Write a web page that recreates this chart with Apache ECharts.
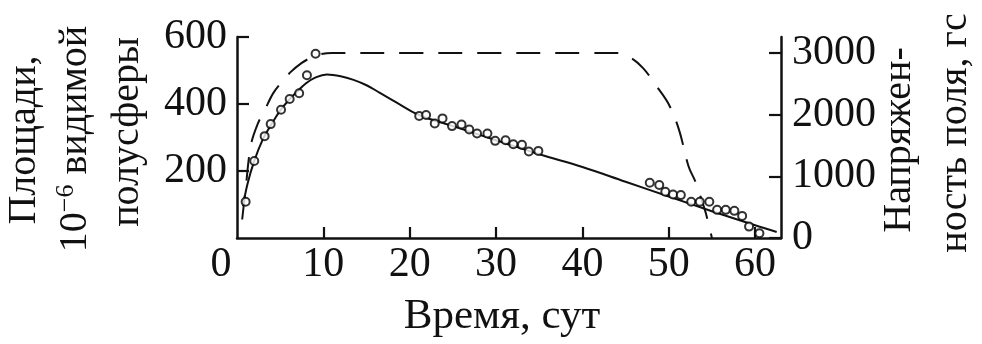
<!DOCTYPE html>
<html>
<head>
<meta charset="utf-8">
<script src="https://cdn.jsdelivr.net/npm/echarts@6/dist/echarts.min.js"></script>
<style>
  html, body { margin: 0; padding: 0; background: #fff; }
  #chart { width: 982px; height: 344px; }
</style>
</head>
<body>
<div id="chart"></div>
<script>
// Observed visible-hemisphere area of the spot group (10^-6 hemisphere)
const obsDays = [1.0, 2.0, 3.2, 3.9, 5.1, 6.1, 7.2, 8.1, 9.1,
  21.1, 21.9, 22.9, 23.8, 24.9, 26.0, 26.9, 27.8, 29.0, 29.9, 31.1, 32.0, 33.0, 33.8, 34.9,
  47.8, 48.9, 49.6, 50.5, 51.4, 52.6, 53.6, 54.7, 55.6, 56.6, 57.6, 58.5, 59.3, 60.5];
const obsArea = [108, 230, 304, 340, 383, 415, 432, 486, 550,
  364, 367, 342, 357, 334, 339, 324, 312, 312, 290, 292, 280, 278, 258, 260,
  165, 158, 138, 130, 128, 108, 108, 108, 84, 84, 81, 66, 34, 14];

// Smoothed area curve
const curveDays = [0.7, 1.2, 2.0, 3.0, 4.0, 5.0, 6.0, 7.0, 8.0, 9.0, 10.4, 12.0, 13.5, 15.0,
  16.5, 18.5, 21.0, 25.0, 30.0, 35.0, 40.0, 45.0, 50.0, 55.0, 60.0, 62.5];
const curveArea = [95, 160, 230, 295, 340, 380, 412, 438, 462, 478, 488, 483, 472, 456,
  434, 404, 368, 334, 292, 250, 212, 168, 124, 80, 38, 18];

// Magnetic field strength, Gs
const fieldDays = [0.6, 1.0, 1.6, 2.4, 3.3, 4.2, 5.2, 6.2, 7.5, 8.5, 9.5, 11, 20, 30, 40, 44,
  45.5, 47, 48.5, 50, 51.2, 52.3, 53.1, 53.8, 54.3, 55];
const fieldGs = [300, 800, 1500, 1850, 2100, 2350, 2530, 2690, 2840, 2920, 2975, 3000, 3000, 3000, 3000, 3000,
  2930, 2760, 2480, 2170, 1750, 1160, 910, 620, 400, 0];

const xTicks = [0, 10, 20, 30, 40, 50, 60];
const areaTicks = [200, 400, 600];
const fieldTicks = [0, 1000, 2000, 3000];

const ink = '#111';
const serif = 'Liberation Serif';

const chart = echarts.init(document.getElementById('chart'), null, { renderer: 'canvas' });

const axisLineStyle = { color: ink, width: 2.5 };
const tickStyle = { color: ink, width: 2.2 };
const plain = v => String(v);

chart.setOption({
  animation: false,
  backgroundColor: '#fff',
  grid: { left: 237, right: 201, top: 37, bottom: 106 },
  xAxis: {
    type: 'value', min: 0, max: 63, interval: 10,
    axisLine: { show: true, onZero: false, lineStyle: axisLineStyle },
    axisTick: { show: true, inside: true, length: 11, lineStyle: tickStyle, customValues: xTicks.slice(1) },
    axisLabel: {
      color: ink, fontFamily: serif, fontSize: 42, margin: 6,
      customValues: xTicks,
      formatter: v => v === 0 ? '{z|0}' : String(v),
      rich: { z: { fontFamily: serif, fontSize: 42, color: ink, padding: [0, 32, 0, 0] } }
    },
    splitLine: { show: false }
  },
  yAxis: [
    {
      type: 'value', min: 0, max: 600, interval: 200, position: 'left',
      axisLine: { show: true, onZero: false, lineStyle: axisLineStyle },
      axisTick: { show: true, inside: true, length: 12, lineStyle: tickStyle, customValues: areaTicks },
      axisLabel: { color: ink, fontFamily: serif, fontSize: 42, margin: 10, customValues: areaTicks, formatter: plain },
      splitLine: { show: false }
    },
    {
      type: 'value', min: 0, max: 3260, position: 'right',
      axisLine: { show: true, onZero: false, lineStyle: axisLineStyle },
      axisTick: { show: true, inside: true, length: 12, lineStyle: tickStyle, customValues: fieldTicks },
      axisLabel: { color: ink, fontFamily: serif, fontSize: 42, margin: 11, customValues: fieldTicks, formatter: plain },
      splitLine: { show: false }
    }
  ],
  series: [
    {
      type: 'line', name: 'field', yAxisIndex: 1, smooth: 0.35, showSymbol: false,
      data: fieldDays.map((d, i) => [d, fieldGs[i]]),
      lineStyle: { color: ink, width: 2, type: [24, 15] },
      z: 2
    },
    {
      type: 'line', name: 'areaCurve', yAxisIndex: 0, smooth: 0.4, showSymbol: false,
      data: curveDays.map((d, i) => [d, curveArea[i]]),
      lineStyle: { color: ink, width: 2 },
      z: 3
    },
    {
      type: 'scatter', name: 'area', yAxisIndex: 0,
      data: obsDays.map((d, i) => [d, obsArea[i]]),
      symbol: 'circle', symbolSize: 8,
      itemStyle: { color: '#fff', borderColor: '#000', borderWidth: 2 },
      z: 4
    }
  ],
  graphic: [
    { type: 'text', x: 502, y: 317, style: { text: 'Время, сут', font: '43px "Liberation Serif"', fill: ink, align: 'center', verticalAlign: 'middle' } },
    { type: 'text', x: 24, y: 140, rotation: Math.PI / 2, style: { text: 'Площади,', font: '40px "Liberation Serif"', fill: ink, align: 'center', verticalAlign: 'middle' } },
    { type: 'text', x: 75, y: 139, rotation: Math.PI / 2, style: {
        text: '{n|10}{s|−6}{n| видимой}', align: 'center', verticalAlign: 'middle',
        rich: {
          n: { font: '40px "Liberation Serif"', fill: ink, lineHeight: 44 },
          s: { font: '26px "Liberation Serif"', fill: ink, lineHeight: 44, verticalAlign: 'top' }
        }
      } },
    { type: 'text', x: 127, y: 132, rotation: Math.PI / 2, style: { text: 'полусферы', font: '40px "Liberation Serif"', fill: ink, align: 'center', verticalAlign: 'middle' } },
    { type: 'text', x: 899, y: 140, rotation: Math.PI / 2, style: { text: 'Напряжен-', font: '40px "Liberation Serif"', fill: ink, align: 'center', verticalAlign: 'middle' } },
    { type: 'text', x: 955, y: 133, rotation: Math.PI / 2, style: { text: 'ность поля, гс', font: '40px "Liberation Serif"', fill: ink, align: 'center', verticalAlign: 'middle' } }
  ]
});
</script>
</body>
</html>
